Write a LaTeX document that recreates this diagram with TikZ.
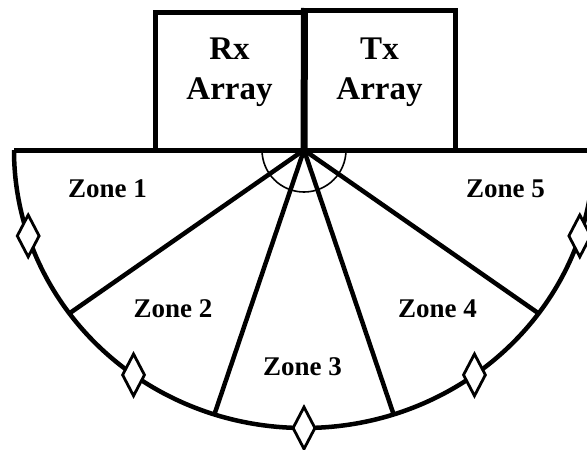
\documentclass[tikz,border=0pt]{standalone}
\usepackage{fontspec}
\setmainfont{Liberation Serif}
\usetikzlibrary{shapes.geometric,calc}
\tikzset{
  thick line/.style={line width=4.5pt},
  boxline/.style={line width=5pt},
  sensor/.style={shape=diamond, draw, fill=white, line width=2.8pt, minimum width=23pt, minimum height=43pt, inner sep=0pt},
  zonelabel/.style={font=\bfseries\fontsize{27}{32}\selectfont, inner sep=0pt},
  arraylabel/.style={font=\bfseries\fontsize{33}{40}\selectfont, align=center, inner sep=0pt},
}
\newcommand{\rxA}{290}
\newcommand{\ryA}{278}
\begin{document}
\begin{tikzpicture}[x=1pt,y=-1pt]
\useasboundingbox (0,0) rectangle (587,450);
\clip (0,0) rectangle (587,450);
\coordinate (O) at (304,150);
\coordinate (L) at (14,150);
\coordinate (R) at (594,150);
% zone boundary points on the rim
\foreach \a/\n in {36/p4,72/p3,108/p2,144/p1}{
  \coordinate (\n) at ($(O)+({\rxA*cos(\a)},{\ryA*sin(\a)})$);
}
\foreach \a/\n in {18/d5,54/d4,90/d3,126/d2,162/d1}{
  \coordinate (\n) at ($(O)+({\rxA*cos(\a)},{\ryA*sin(\a)})$);
}
% small angle semicircle
\draw[line width=1.6pt] (O) ++(-42,0) arc[start angle=180, end angle=0, radius=42];
% zone lines
\foreach \n in {p1,p2,p3,p4}{
  \draw[thick line] (O) -- (\n);
}
% rim arc
\draw[thick line] (L) arc[start angle=180, end angle=0, x radius=\rxA, y radius=\ryA];
% top line
\draw[boxline] (L) -- (R);
% arrays
\draw[boxline] (155,150) -- (155,12) -- (304,12) -- (304,150);
\draw[boxline] (304,10) -- (455,10) -- (455,150);
\draw[line width=7pt] (304.5,8) -- (O);
\node[arraylabel] (rx) at (229.5,72.5) {Rx\\Array};
\node[arraylabel] (tx) at (379.5,72.5) {Tx\\Array};
% sensors
\foreach \n in {d1,d2,d3,d4,d5}{
  \node[sensor] (s\n) at (\n) {};
}
% zone labels
\node[zonelabel] (z1) at (107.5,189) {Zone 1};
\node[zonelabel] (z2) at (173,309) {Zone 2};
\node[zonelabel] (z3) at (302.5,367) {Zone 3};
\node[zonelabel] (z4) at (437.5,309) {Zone 4};
\node[zonelabel] (z5) at (505.5,189) {Zone 5};
\end{tikzpicture}
\end{document}
